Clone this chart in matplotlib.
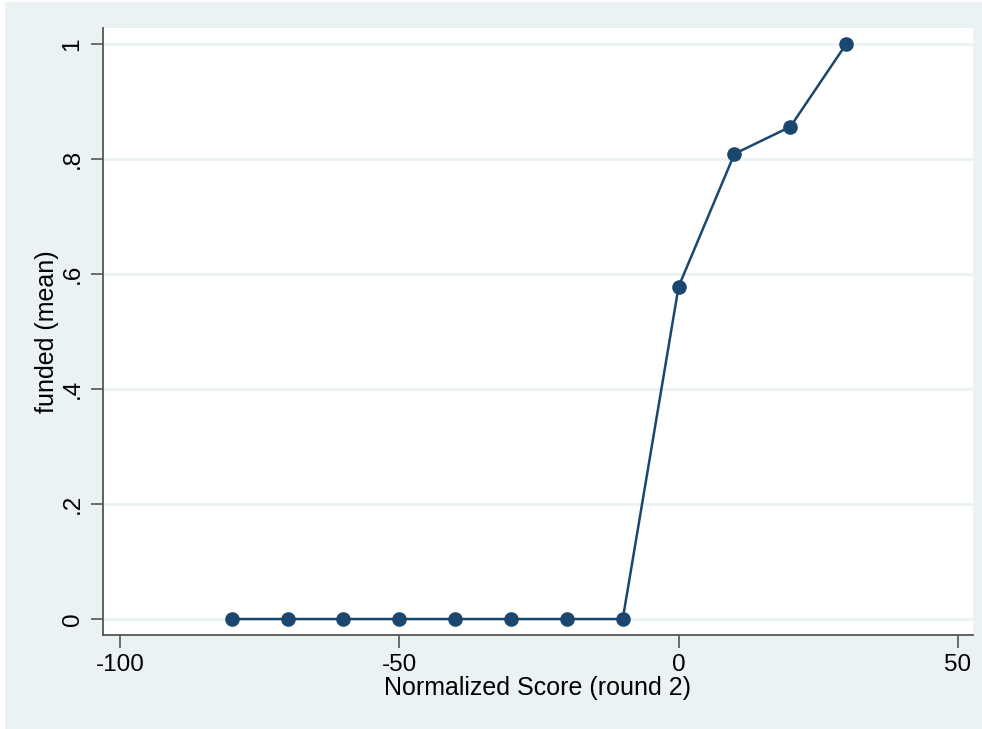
import matplotlib
matplotlib.use("Agg")
import matplotlib.pyplot as plt
from matplotlib.patches import Rectangle

score = [-80, -70, -60, -50, -40, -30, -20, -10, 0, 10, 20, 30]
funded_mean = [0, 0, 0, 0, 0, 0, 0, 0, 0.578, 0.809, 0.856, 1.0]
xticks = [-100, -50, 0, 50]
xticklabels = ["-100", "-50", "0", "50"]
yticks = [0, 0.2, 0.4, 0.6, 0.8, 1.0]
yticklabels = ["0", ".2", ".4", ".6", ".8", "1"]

plt.rcParams['font.family'] = ['Liberation Sans', 'DejaVu Sans']

W, H = 982, 729
fig = plt.figure(figsize=(W/100, H/100), dpi=100, facecolor='white')
fig.patches.append(Rectangle((5/W, 0), 1 - 5/W, 1 - 2/H, transform=fig.transFigure,
                             facecolor='#EAF2F3', edgecolor='none', zorder=-10))

ax = fig.add_axes([103/W, 1 - 635/H, (973-103)/W, (635-28)/H])
ax.set_facecolor('white')
ax.plot(score, funded_mean, color='#1A476F', lw=1.8, marker='o', ms=9.5, zorder=3)

ax.set_xlim(-103.04, 52.7)
ax.set_ylim(-0.0278, 1.0278)
ax.set_xticks(xticks)
ax.set_xticklabels(xticklabels)
ax.set_yticks(yticks)
ax.set_yticklabels(yticklabels, rotation=90, va='center')
ax.grid(axis='y', color='#EAF2F3', lw=2)
ax.set_axisbelow(True)

for s in ['top', 'right']:
    ax.spines[s].set_visible(False)
for s in ['left', 'bottom']:
    ax.spines[s].set_color('#555555')
    ax.spines[s].set_linewidth(1.3)
ax.tick_params(direction='out', length=9, width=1.2, color='#555555', labelsize=17.5, pad=5)

ax.set_xlabel('Normalized Score (round 2)', fontsize=18, labelpad=0)
ax.set_ylabel('funded (mean)', fontsize=18, labelpad=2)

fig.savefig('out.png', dpi=100, facecolor=fig.get_facecolor())
